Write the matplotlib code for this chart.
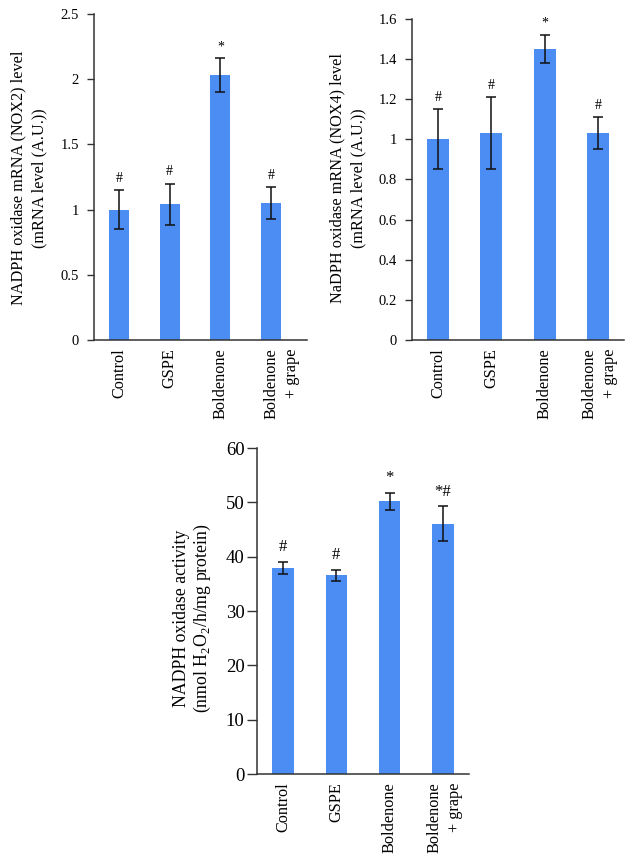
import matplotlib
matplotlib.use("Agg")
import matplotlib.pyplot as plt

plt.rcParams['font.family'] = ['Liberation Serif', 'DejaVu Serif']
plt.rcParams['mathtext.fontset'] = 'custom'
plt.rcParams['mathtext.rm'] = 'Liberation Serif'

categories = ["Control", "GSPE", "Boldenone", "Boldenone\n+ grape"]

nox2_vals = [1.00, 1.04, 2.03, 1.05]
nox2_err = [0.15, 0.16, 0.13, 0.12]
nox2_marks = ["#", "#", "*", "#"]

nox4_vals = [1.00, 1.03, 1.45, 1.03]
nox4_err = [0.15, 0.18, 0.07, 0.08]
nox4_marks = ["#", "#", "*", "#"]

act_vals = [38.0, 36.6, 50.2, 46.1]
act_err = [1.1, 1.0, 1.6, 3.2]
act_marks = ["#", "#", "*", "*#"]

BLUE = "#4B8DF3"
W, H = 635, 863
fig = plt.figure(figsize=(W / 100, H / 100), dpi=100)


def panel(rect, vals, errs, marks, ylim, yticks, yticklabels, ylabel, label_xy,
          xlim, width, mark_off, tick_fs, label_fs, mark_fs, tlen, tpad,
          label_ls, last_shift):
    ax = fig.add_axes(rect)
    x = list(range(len(vals)))
    ax.bar(x, vals, width=width, color=BLUE, zorder=2)
    ax.errorbar(x, vals, yerr=errs, fmt='none', ecolor='#111111', elinewidth=1.1,
                capsize=3.5, capthick=1.1, zorder=3)
    for xi, v, e, m in zip(x, vals, errs, marks):
        ax.text(xi, v + e + mark_off, m, ha='center', va='bottom', fontsize=mark_fs)
    ax.set_ylim(*ylim)
    ax.set_xlim(*xlim)
    ax.set_yticks(yticks)
    ax.set_yticklabels(yticklabels, fontsize=tick_fs)
    ax.set_xticks(x)
    ax.set_xticklabels([])
    for i, (xi, cat) in enumerate(zip(x, categories)):
        dx = last_shift if i == len(x) - 1 else 0
        ax.annotate(cat, xy=(xi, 0), xycoords=('data', 'axes fraction'),
                    xytext=(dx, -8), textcoords='offset pixels', rotation=90,
                    ha='center', va='top', multialignment='right',
                    fontsize=11.7, linespacing=1.4, annotation_clip=False)
    ax.tick_params(axis='x', length=0)
    ax.tick_params(axis='y', length=tlen, width=1, direction='out', pad=tpad,
                   color='#333333')
    for s in ['top', 'right']:
        ax.spines[s].set_visible(False)
    for s in ['left', 'bottom']:
        ax.spines[s].set_color('#333333')
        ax.spines[s].set_linewidth(1.1)
    fig.text(label_xy[0] / W, 1 - label_xy[1] / H, ylabel, rotation=90,
             ha='center', va='center', multialignment='center',
             fontsize=label_fs, linespacing=label_ls)
    return ax


panel([94 / W, 1 - 340 / H, (307 - 94) / W, (340 - 14) / H],
      nox2_vals, nox2_err, nox2_marks, (0, 2.5), [0, 0.5, 1, 1.5, 2, 2.5],
      ["0", "0.5", "1", "1.5", "2", "2.5"],
      "NADPH oxidase mRNA (NOX2) level\n(mRNA level (A.U.))", (28.5, 178),
      (-0.493, 3.71), 0.39, 0.04, 10.5, 11.7, 10, 5, 6, 1.4, 10.5)

panel([412 / W, 1 - 340 / H, (624 - 412) / W, (340 - 19) / H],
      nox4_vals, nox4_err, nox4_marks, (0, 1.6), [0, 0.2, 0.4, 0.6, 0.8, 1.0, 1.2, 1.4, 1.6],
      ["0", "0.2", "0.4", "0.6", "0.8", "1", "1.2", "1.4", "1.6"],
      "NaDPH oxidase mRNA (NOX4) level\n(mRNA level (A.U.))", (348, 178),
      (-0.49, 3.49), 0.41, 0.025, 10.5, 11.7, 10, 5, 6, 1.4, 2)

panel([257 / W, 1 - 774 / H, (469 - 257) / W, (774 - 448) / H],
      act_vals, act_err, act_marks, (0, 60), [0, 10, 20, 30, 40, 50, 60],
      ["0", "10", "20", "30", "40", "50", "60"],
      "NADPH oxidase activity\n(nmol H$_\\mathregular{2}$O$_\\mathregular{2}$/h/mg protein)",
      (193, 618),
      (-0.49, 3.49), 0.40, 1.2, 13.5, 12.8, 12, 7, 2, 1.15, 2)

fig.savefig("out.png", dpi=100)
